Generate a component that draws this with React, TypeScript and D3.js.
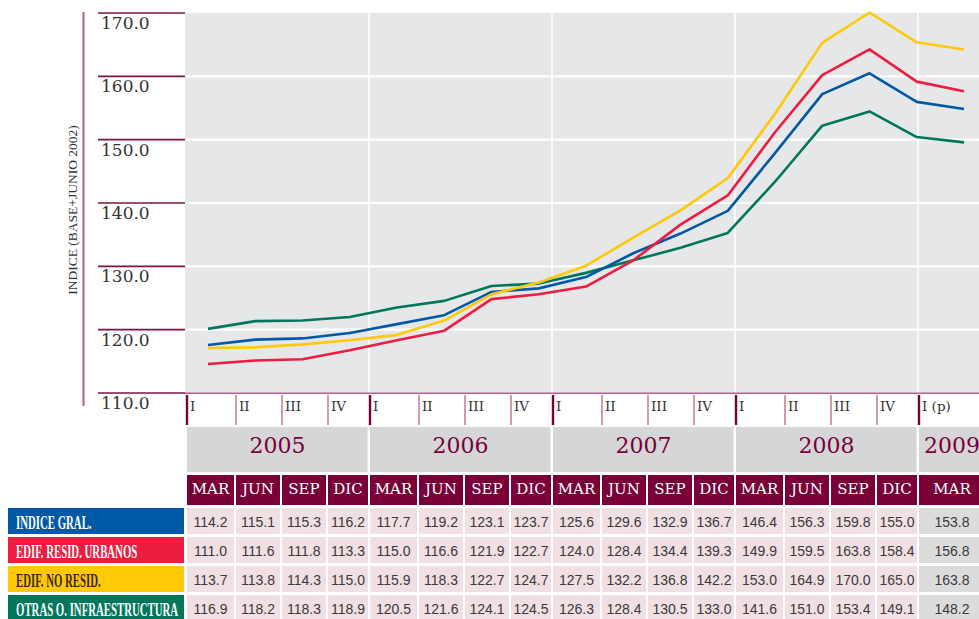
import * as d3 from 'd3'

// periods shown in the table / chart
const years = ['2005', '2006', '2007', '2008', '2009']
const quarterLabels = ['I', 'II', 'III', 'IV', 'I', 'II', 'III', 'IV', 'I', 'II', 'III', 'IV', 'I', 'II', 'III', 'IV', 'I (p)']
const monthLabels = ['MAR', 'JUN', 'SEP', 'DIC', 'MAR', 'JUN', 'SEP', 'DIC', 'MAR', 'JUN', 'SEP', 'DIC', 'MAR', 'JUN', 'SEP', 'DIC', 'MAR']
const periodYear = ['2005', '2005', '2005', '2005', '2006', '2006', '2006', '2006', '2007', '2007', '2007', '2007', '2008', '2008', '2008', '2008', '2009']

const seriesNames = ['INDICE GRAL.', 'EDIF. RESID. URBANOS', 'EDIF. NO RESID.', 'OTRAS O. INFRAESTRUCTURA']
const indiceGral = [114.2, 115.1, 115.3, 116.2, 117.7, 119.2, 123.1, 123.7, 125.6, 129.6, 132.9, 136.7, 146.4, 156.3, 159.8, 155.0, 153.8]
const edifResid = [111.0, 111.6, 111.8, 113.3, 115.0, 116.6, 121.9, 122.7, 124.0, 128.4, 134.4, 139.3, 149.9, 159.5, 163.8, 158.4, 156.8]
const edifNoResid = [113.7, 113.8, 114.3, 115.0, 115.9, 118.3, 122.7, 124.7, 127.5, 132.2, 136.8, 142.2, 153.0, 164.9, 170.0, 165.0, 163.8]
const otrasInfra = [116.9, 118.2, 118.3, 118.9, 120.5, 121.6, 124.1, 124.5, 126.3, 128.4, 130.5, 133.0, 141.6, 151.0, 153.4, 149.1, 148.2]

const W = 979
const H = 619

const colors = ['#0059a7', '#ee1c3f', '#ffc908', '#00775b']
const labelText = ['#ffffff', '#ffffff', '#3a2a05', '#ffffff']
const maroon = '#7a0038'
const series = [indiceGral, edifResid, edifNoResid, otrasInfra]

// table column widths (MAR col a bit wider, 2009 col extends past the edge)
const colWeights = [49, 46, 46, 42, 49, 46, 46, 42, 49, 46, 46, 42, 49, 46, 46, 42, 68]

export default function App() {
  const serif = 'DejaVu Serif, serif'
  const sans = 'Liberation Sans, Arial, sans-serif'

  // y axis (grid) and the plotting scale used for the lines
  const axisY = d3.scaleLinear().domain([110, 170]).range([393, 13])
  const lineY = d3.scaleLinear().domain([110, 170]).range([370, 12.5])
  const keys = monthLabels.map((m, i) => `${periodYear[i]}-${m}`)
  const x = d3.scalePoint<string>().domain(keys).range([208, 964])

  const cum = d3.cumsum(colWeights)
  const colX = d3.scaleLinear().domain([0, d3.sum(colWeights)]).range([186, 986])
  const col = (i: number) => ({ x0: colX(i === 0 ? 0 : cum[i - 1]), x1: colX(cum[i]) })

  const yearSpans = years.map(y => {
    const idx = periodYear.map((p, i) => (p === y ? i : -1)).filter(i => i >= 0)
    return { year: y, x0: col(idx[0]).x0, x1: col(idx[idx.length - 1]).x1 }
  })

  const line = d3.line<number>()
    .x((_, i) => x(keys[i]) as number)
    .y(d => lineY(d))

  const yTicks = axisY.ticks(6)
  const fmt = d3.format('.1f')

  const rowTop = [508, 537, 566, 595]
  const rowH = 26

  return (
    <svg width={W} height={H} style={{ position: 'absolute', left: 0, top: 0 }}>
      <rect x={0} y={0} width={W} height={H} fill="#fff" />
      {/* plot background */}
      <rect x={185} y={13} width={W - 185} height={380} fill="#e6e7e8" />
      {yTicks.slice(1, -1).map(t => (
        <line key={'g' + t} x1={185} x2={W} y1={axisY(t)} y2={axisY(t)} stroke="#fff" strokeWidth={2.2} />
      ))}
      {yearSpans.slice(1).map(s => (
        <line key={'v' + s.year} x1={s.x0} x2={s.x0} y1={13} y2={393} stroke="#fff" strokeWidth={1.6} />
      ))}

      {/* left axis */}
      <line x1={83.5} x2={83.5} y1={12} y2={406} stroke="#ad5f86" strokeWidth={2} />
      <text
        transform={`translate(77,210) rotate(-90)`}
        textAnchor="middle"
        fontFamily="Liberation Serif, serif"
        fontSize={13.5}
        fill="#333"
      >
        INDICE (BASE+JUNIO 2002)
      </text>
      {yTicks.map(t => (
        <g key={'t' + t}>
          <line x1={98} x2={185} y1={axisY(t)} y2={axisY(t)} stroke="#7d1444" strokeWidth={1.6} />
          <text x={101} y={axisY(t) + 16} fontFamily={serif} fontSize={17} fill="#333">
            {fmt(t)}
          </text>
        </g>
      ))}
      <line x1={185} x2={W} y1={393.3} y2={393.3} stroke="#b0648b" strokeWidth={1.6} />

      {/* series lines */}
      {[3, 0, 1, 2].map(si => (
        <path key={'l' + si} d={line(series[si]) ?? ''} fill="none" stroke={colors[si]} strokeWidth={2.6} strokeLinejoin="round" />
      ))}

      {/* quarter ticks + labels */}
      {quarterLabels.map((q, i) => {
        const c = col(i)
        const yearStart = i % 4 === 0
        return (
          <g key={'q' + i}>
            <line
              x1={c.x0 + 1} x2={c.x0 + 1} y1={395} y2={425}
              stroke={yearStart ? maroon : '#a84878'}
              strokeWidth={yearStart ? 2.4 : 1.1}
            />
            <text x={c.x0 + 4} y={411} fontFamily={serif} fontSize={13.5} fill="#333">{q}</text>
          </g>
        )
      })}

      {/* year row */}
      {yearSpans.map(s => (
        <g key={'y' + s.year}>
          <rect x={s.x0 + 1} y={427} width={s.x1 - s.x0 - 2.5} height={45} fill="#d5d6d8" />
          <text x={(s.x0 + s.x1) / 2} y={453} textAnchor="middle" fontFamily={serif} fontSize={22} fill={maroon}>
            {s.year}
          </text>
        </g>
      ))}

      {/* month row */}
      {monthLabels.map((m, i) => {
        const c = col(i)
        return (
          <g key={'m' + i}>
            <rect x={c.x0 + 1} y={475} width={c.x1 - c.x0 - 2} height={30} fill={maroon} />
            <text x={(c.x0 + c.x1) / 2} y={494} textAnchor="middle" fontFamily={serif} fontSize={15} fill="#fff">
              {m}
            </text>
          </g>
        )
      })}

      {/* data rows */}
      {series.map((vals, si) => (
        <g key={'r' + si}>
          <rect x={8} y={rowTop[si]} width={176} height={rowH} fill={colors[si]} />
          <text
            transform={`translate(16,${rowTop[si] + 21}) scale(0.6,1)`}
            fontFamily="Liberation Serif, serif"
            fontWeight="bold"
            fontSize={18}
            fill={labelText[si]}
          >
            {seriesNames[si]}
          </text>
          {vals.map((v, i) => {
            const c = col(i)
            return (
              <g key={'c' + i}>
                <rect
                  x={c.x0 + 1} y={rowTop[si]} width={c.x1 - c.x0 - 2} height={rowH}
                  fill={periodYear[i] === '2009' ? '#dcdcdd' : '#f0dfe3'}
                />
                <text x={(c.x0 + c.x1) / 2} y={rowTop[si] + 19} textAnchor="middle" fontFamily={sans} fontSize={14} fill="#3a3a3a">
                  {fmt(v)}
                </text>
              </g>
            )
          })}
        </g>
      ))}
    </svg>
  )
}
